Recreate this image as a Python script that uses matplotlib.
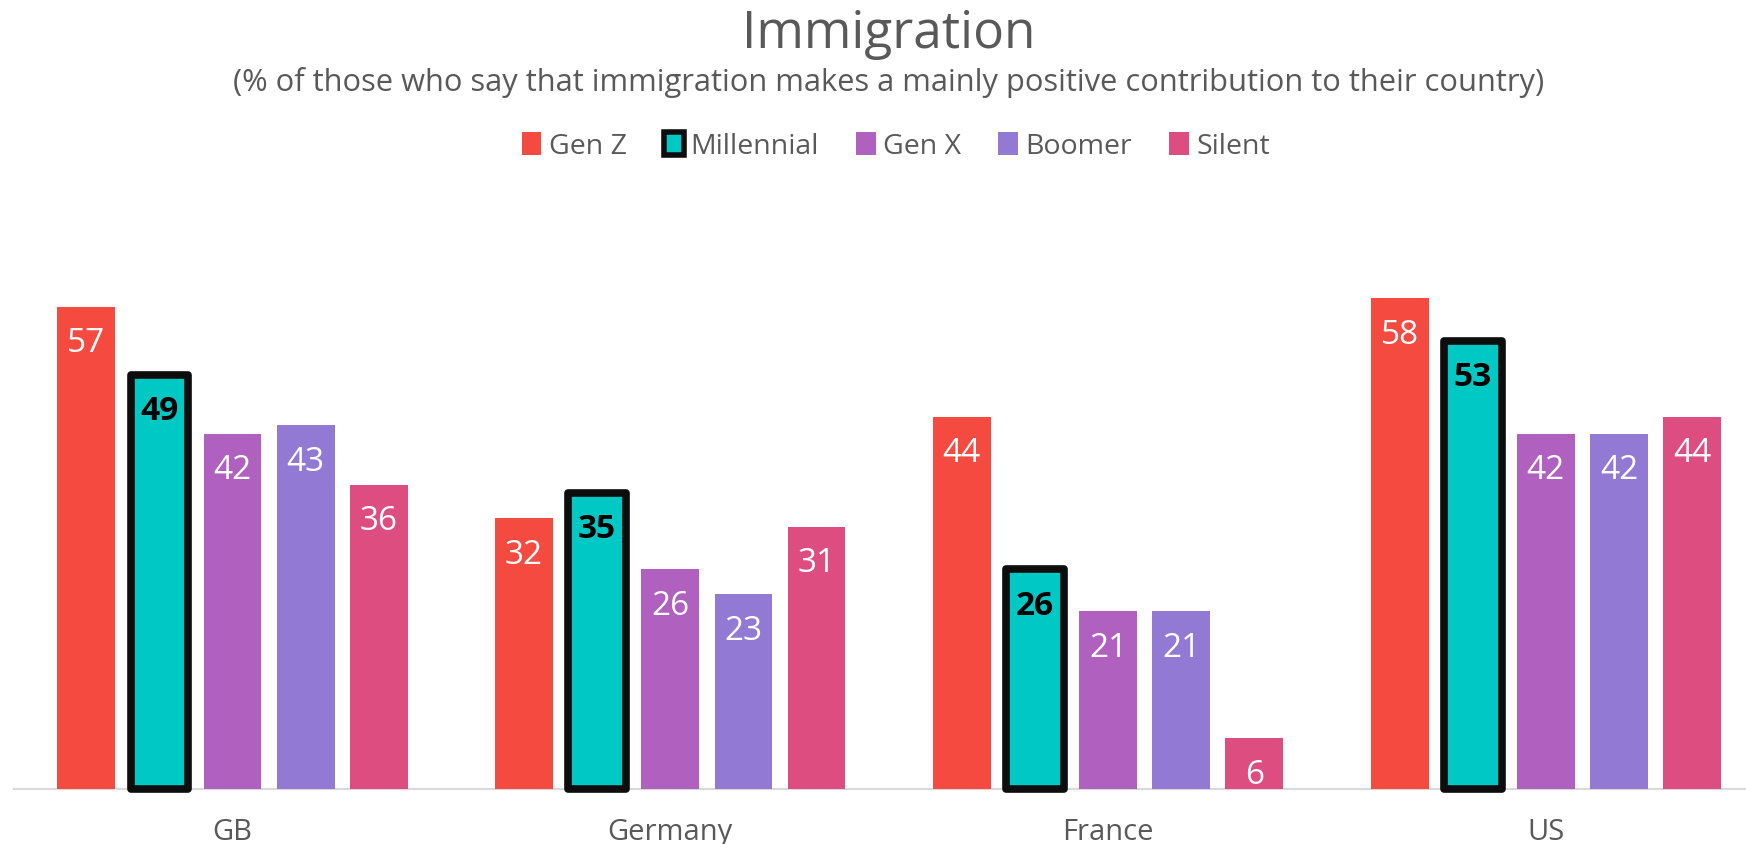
import numpy as np
import matplotlib.pyplot as plt
from matplotlib.patches import Patch

plt.rcParams['font.family'] = ['Open Sans', 'DejaVu Sans']

# Data
countries = ['GB', 'Germany', 'France', 'US']
generations = ['Gen Z', 'Millennial', 'Gen X', 'Boomer', 'Silent']
gen_z = [57, 32, 44, 58]
millennial = [49, 35, 26, 53]
gen_x = [42, 26, 21, 42]
boomer = [43, 23, 21, 42]
silent = [36, 31, 6, 44]

colors = ['#F44A40', '#00C8C4', '#B061C0', '#9279D4', '#DE4D80']
text_grey = '#595959'

series = [gen_z, millennial, gen_x, boomer, silent]

fig = plt.figure(figsize=(17.46, 8.45), dpi=100)
ax = fig.add_axes([13.7 / 1746, 55 / 845, 1751 / 1746, 609 / 845])

x = np.arange(len(countries))
step = 0.167
width = 0.132

for i, (vals, col) in enumerate(zip(series, colors)):
    pos = x + (i - 2) * step
    if generations[i] == 'Millennial':
        bars = ax.bar(pos, vals, width, color=col, edgecolor='#0D0D0D',
                      linewidth=5.5, joinstyle='round', clip_on=False, zorder=3)
        txt_col, weight = '#000000', 'bold'
    else:
        bars = ax.bar(pos, vals, width, color=col, zorder=3)
        txt_col, weight = 'white', 'normal'
    for b, v in zip(bars, vals):
        ax.text(b.get_x() + b.get_width() / 2, v - 2.3, str(v),
                ha='center', va='top', fontsize=24, color=txt_col,
                fontweight=weight, zorder=4)

ax.set_xlim(-0.5, 3.5)
ax.set_ylim(0, 72)
ax.set_yticks([])
for s in ['top', 'right', 'left']:
    ax.spines[s].set_visible(False)
ax.spines['bottom'].set_color('#D9D9D9')
ax.spines['bottom'].set_linewidth(1.5)
ax.set_xticks(x)
ax.set_xticklabels(countries, fontsize=21, color=text_grey)
ax.tick_params(axis='x', length=0, pad=20)

# Titles
fig.text(0.509, 1 - 35 / 845, 'Immigration', ha='center', va='center',
         fontsize=37, color=text_grey)
fig.text(0.509, 1 - 82 / 845,
         '(% of those who say that immigration makes a mainly positive contribution to their country)',
         ha='center', va='center', fontsize=22.2, color=text_grey)

# Legend
handles = []
for g, c in zip(generations, colors):
    if g == 'Millennial':
        handles.append(Patch(facecolor=c, edgecolor='#0D0D0D', linewidth=4, label=g))
    else:
        handles.append(Patch(facecolor=c, label=g))
fig.legend(handles=handles, loc='center', bbox_to_anchor=(0.513, 1 - 147 / 845),
           ncol=5, frameon=False, fontsize=20.5, handlelength=0.7, handleheight=0.85,
           handletextpad=0.25, columnspacing=1.3, labelcolor=text_grey)

fig.savefig('out.png', dpi=100)
